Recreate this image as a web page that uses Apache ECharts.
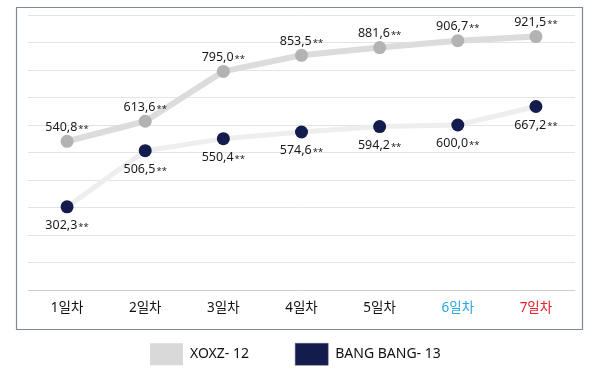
<!DOCTYPE html>
<html>
<head>
<meta charset="utf-8">
<script src="https://cdn.jsdelivr.net/npm/echarts@6/dist/echarts.min.js"></script>
<style>html,body{margin:0;padding:0;background:#fff;}#c{width:600px;height:372px;}</style>
</head>
<body>
<div id="c"></div>
<script>
const categories = ['1일차','2일차','3일차','4일차','5일차','6일차','7일차'];
const categoryColors = ['#111111','#111111','#111111','#111111','#111111','#2aa6e0','#e8202a'];
const seriesNames = ['XOXZ- 12','BANG BANG- 13'];
const xoxzValues = [540.8, 613.6, 795.0, 853.5, 881.6, 906.7, 921.5];
const bangValues = [302.3, 506.5, 550.4, 574.6, 594.2, 600.0, 667.2];
const yMin = 0, yMax = 1000, yInterval = 100;

const font = '"Noto Sans", "Noto Sans CJK KR", sans-serif';
function fmt(p){ return '{a|' + p.value.toFixed(1).replace('.', ',') + '}{b|**}'; }
const rich = {
  a:{fontSize:12.5, color:'#1a1a1a', fontFamily:font},
  b:{fontSize:9.5, color:'#1a1a1a', fontFamily:font, padding:[3,0,0,1]}
};

const chart = echarts.init(document.getElementById('c'), null, {renderer:'canvas'});
chart.setOption({
  animation:false,
  backgroundColor:'#ffffff',
  textStyle:{fontFamily:font},
  grid:{left:28, right:25, top:15, bottom:82, containLabel:false},
  graphic:[{type:'rect', shape:{x:16.5, y:7.5, width:566, height:322}, style:{fill:'none', stroke:'#7f8990', lineWidth:1.2}, z:-1}],
  legend:{
    left:145, top:338, itemWidth:33, itemHeight:22, itemGap:46,
    textStyle:{fontSize:14, color:'#111', fontFamily:font, padding:[0,0,0,2]},
    data:[
      {name:seriesNames[0], icon:'rect', itemStyle:{color:'#d9d9d9'}},
      {name:seriesNames[1], icon:'rect', itemStyle:{color:'#141b4d', borderColor:'#5a6070', borderWidth:0.5}}
    ]
  },
  xAxis:{
    type:'category', data:categories, boundaryGap:true,
    axisLine:{show:true, lineStyle:{color:'#cfcfcf', width:1}},
    axisTick:{show:false},
    axisLabel:{margin:11, fontSize:13.5, fontFamily:font,
      color:function(v, i){ return categoryColors[i]; }}
  },
  yAxis:{
    type:'value', min:yMin, max:yMax, interval:yInterval,
    axisLabel:{show:false}, axisLine:{show:false}, axisTick:{show:false},
    splitLine:{lineStyle:{color:'#e4e4e4', width:1}}
  },
  series:[
    {
      name:seriesNames[0], type:'line', data:xoxzValues,
      symbol:'circle', symbolSize:13,
      lineStyle:{color:'#dcdcdc', width:6},
      itemStyle:{color:'#b3b3b3'},
      label:{show:true, position:'top', distance:1, formatter:fmt, rich:rich},
      z:3
    },
    {
      name:seriesNames[1], type:'line', data:bangValues,
      symbol:'circle', symbolSize:13,
      lineStyle:{color:'#eeeeee', width:5},
      itemStyle:{color:'#141b4d'},
      label:{show:true, position:'bottom', distance:6, formatter:fmt, rich:rich},
      z:2
    }
  ]
});
</script>
</body>
</html>
